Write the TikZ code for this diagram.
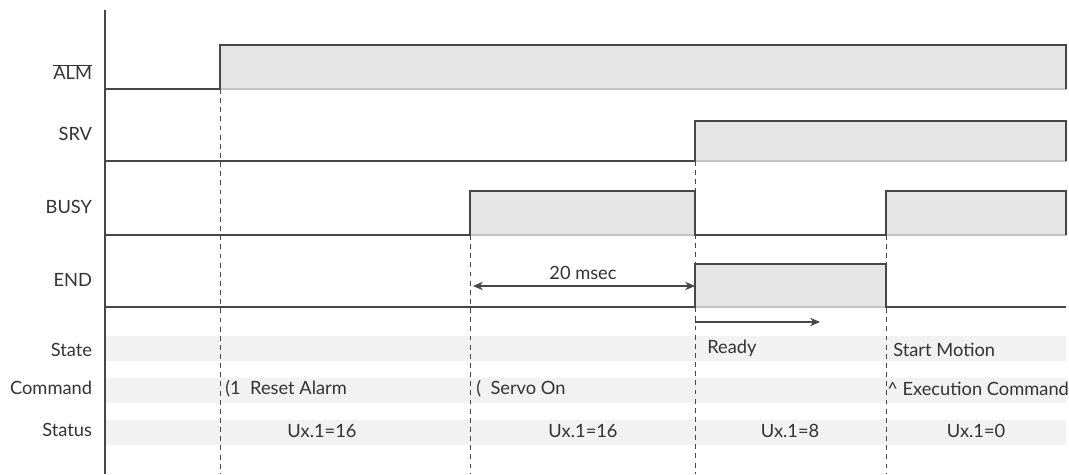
\documentclass[tikz,border=0pt]{standalone}
\usepackage{fontspec}
\setmainfont{Lato}
\usetikzlibrary{positioning,arrows.meta}
\definecolor{sigline}{HTML}{474747}
\definecolor{sigfill}{HTML}{E5E5E5}
\definecolor{sigedge}{HTML}{C4C4C4}
\definecolor{bandfill}{HTML}{F2F2F2}
\definecolor{txt}{HTML}{333333}

\begin{document}
\begin{tikzpicture}[
  x=0.025cm, y=-0.025cm,
  wave/.style={draw=sigline, line width=1.1pt},
  highbox/.style={fill=sigfill, draw=sigedge, line width=0.8pt},
  band/.style={fill=bandfill},
  marker/.style={draw=sigline, line width=0.6pt, dash pattern=on 3.5pt off 3pt},
  siglabel/.style={anchor=east, text=txt, font=\fontsize{13}{15}\selectfont},
  celltext/.style={anchor=west, text=txt, font=\fontsize{13}{15}\selectfont, inner sep=0pt},
  cellmid/.style={text=txt, font=\fontsize{13}{15}\selectfont, inner sep=0pt},
  arrow/.style={-{Stealth[length=7pt,width=6pt]}, draw=sigline, line width=0.8pt},
  dimarrow/.style={{Stealth[length=7pt,width=6pt]}-{Stealth[length=7pt,width=6pt]}, draw=sigline, line width=0.8pt}
]
\useasboundingbox (0,0) rectangle (1069,474);

% --------------------
% Bands of the table rows
% --------------------
\fill[band] (105,336) rectangle (1066,361);
\fill[band] (105,378) rectangle (1066,403);
\fill[band] (105,420) rectangle (1066,445);

% --------------------
% High levels
% --------------------
\filldraw[highbox] (220,45) rectangle (1066,89);
\filldraw[highbox] (695,121) rectangle (1066,161);
\filldraw[highbox] (470,191) rectangle (695,235);
\filldraw[highbox] (886,191) rectangle (1066,235);
\filldraw[highbox] (695,264) rectangle (886,307);

% --------------------
% Event markers
% --------------------
\draw[marker] (220,89) -- (220,474);
\draw[marker] (470,235) -- (470,474);
\draw[marker] (695,161) -- (695,474);
\draw[marker] (886,235) -- (886,474);

% --------------------
% Waveforms
% --------------------
\draw[wave] (105,10) -- (105,474);
\draw[wave] (105,89) -- (220,89) -- (220,45) -- (1066,45) -- (1066,89);
\draw[wave] (105,161) -- (695,161) -- (695,121) -- (1066,121) -- (1066,161);
\draw[wave] (105,235) -- (470,235) -- (470,191) -- (695,191) -- (695,235)
  -- (886,235) -- (886,191) -- (1066,191) -- (1066,235);
\draw[wave] (105,307) -- (695,307) -- (695,264) -- (886,264) -- (886,307) -- (1066,307);

% --------------------
% Signal and row labels
% --------------------
\node[siglabel] (alm) at (97,72) {$\overline{\mbox{ALM}}$};
\node[siglabel] (srv) at (97,134) {SRV};
\node[siglabel] (busy) at (97,207) {BUSY};
\node[siglabel] (end) at (97,280) {END};
\node[siglabel] (state) at (97,350) {State};
\node[siglabel] (command) at (97,388) {Command};
\node[siglabel] (status) at (97,430) {Status};

% --------------------
% Timing arrows
% --------------------
\coordinate (delayA) at (473,286);
\coordinate (delayB) at (695,286);
\coordinate (readyA) at (695,322);
\coordinate (readyB) at (820,322);
\draw[dimarrow] (delayA) -- (delayB);
\node[cellmid] (delay) at (583,273) {20 msec};
\draw[arrow] (readyA) -- (readyB);

% --------------------
% Row contents
% --------------------
\node[celltext] (ready) at (707,348) {Ready};
\node[celltext] (start) at (893,350) {Start Motion};
\node[celltext] (reset) at (225,389) {(1~ Reset Alarm};
\node[celltext] (servo) at (476,389) {(~ Servo On};
\node[celltext] (exec) at (887,389) {\^{} Execution Command};
\node[cellmid] (st1) at (322,431) {Ux.1=16};
\node[cellmid] (st2) at (583,431) {Ux.1=16};
\node[cellmid] (st3) at (790,431) {Ux.1=8};
\node[cellmid] (st4) at (976,431) {Ux.1=0};

\end{tikzpicture}
\end{document}
